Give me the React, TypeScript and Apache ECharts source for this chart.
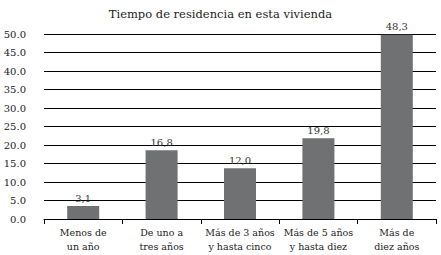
import React, { useEffect, useRef } from "react";
import * as echarts from "echarts";

const title = "Tiempo de residencia en esta vivienda";
const categories = [
  "Menos de\nun año",
  "De uno a\ntres años",
  "Más de 3 años\ny hasta cinco",
  "Más de 5 años\ny hasta diez",
  "Más de\ndiez años",
];
// bar heights as drawn in the picture
const barHeights = [3.5, 18.6, 13.7, 21.8, 49.8];
// value labels as printed above the bars
const valueLabels = ["3,1", "16,8", "12,0", "19,8", "48,3"];
const yMin = 0;
const yMax = 50;
const yStep = 5;

const FONT = "DejaVu Serif";

export default function App() {
  const ref = useRef<HTMLDivElement>(null);
  useEffect(() => {
    if (!ref.current) return;
    const chart = echarts.init(ref.current, undefined, { renderer: "svg" });
    chart.setOption({
      animation: false,
      backgroundColor: "#ffffff",
      textStyle: { fontFamily: FONT },
      title: {
        text: title,
        left: "center",
        top: 3,
        textStyle: { fontFamily: FONT, fontSize: 11.5, fontWeight: "normal", color: "#222" },
      },
      grid: { left: 44, right: 5, top: 34, bottom: 36, containLabel: false },
      xAxis: {
        type: "category",
        data: categories,
        boundaryGap: true,
        axisLine: { show: true, lineStyle: { color: "#000", width: 1 } },
        axisTick: { show: true, length: 5, inside: false, lineStyle: { color: "#000" } },
        axisLabel: {
          interval: 0,
          fontFamily: FONT,
          fontSize: 9.5,
          color: "#222",
          lineHeight: 14,
          margin: 6,
        },
      },
      yAxis: {
        type: "value",
        min: yMin,
        max: yMax,
        interval: yStep,
        axisLine: { show: false },
        axisTick: { show: false },
        splitLine: { show: true, lineStyle: { color: "#000", width: 1 } },
        axisLabel: {
          fontFamily: FONT,
          fontSize: 10,
          color: "#222",
          margin: 18,
          formatter: (v: number) => v.toFixed(1),
        },
      },
      series: [
        {
          type: "bar",
          data: barHeights,
          barWidth: 32,
          itemStyle: { color: "#707172" },
          label: {
            show: true,
            position: "top",
            distance: 3,
            fontFamily: FONT,
            fontSize: 10,
            color: "#333",
            formatter: (p: any) => valueLabels[p.dataIndex],
          },
        },
      ],
    });
    return () => chart.dispose();
  }, []);
  return (
    <div
      ref={ref}
      style={{ position: "fixed", left: 0, top: 0, width: 441, height: 255 }}
    />
  );
}
